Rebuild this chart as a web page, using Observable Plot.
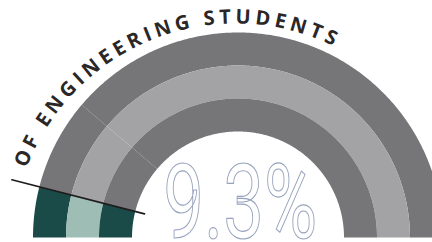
<!DOCTYPE html>
<html><head><meta charset="utf-8">
<script src="https://cdn.jsdelivr.net/npm/d3@7"></script>
<script src="https://cdn.jsdelivr.net/npm/@observablehq/plot@0.6"></script>
<style>html,body{margin:0;padding:0;background:#fff;overflow:hidden}</style>
</head><body><div id="chart"></div>
<script>
// ---- data ----
const sliceNames = ["Engineering students", "Other group A", "Other group B"];
const sliceShares = [8.0, 14.4, 77.6];           // % of the half ring
const ringNames = ["outer", "middle", "inner"];
const headline = "9.3%";
const arcLabel = "OF ENGINEERING STUDENTS";

// ---- layout / style ----
const W = 432, H = 242;
const CX = 238, CY = 237.5;                        // ring centre in pixels
const ringRadii = [[172, 205], [139, 172], [106, 139]];
const highlightColors = ["#1b4b49", "#9dbdb5", "#1b4b49"];
const baseColors = ["#767679", "#a3a3a5", "#767679"];
const markerR = [97, 234];
const textCenter = [235.6 - CX, CY - 247];        // data coords of the label circle centre
const textR = 223.5, textA0 = 20.6, textA1 = 115.8; // baseline radius, start/end angle (deg from left)

const toTheta = c => Math.PI - (c / 100) * Math.PI;

// build annular sectors from the shares
const cum = [0];
sliceShares.forEach((s, i) => cum.push(cum[i] + s));
const sectorPts = [];
ringNames.forEach((ring, i) => {
  const [r0, r1] = ringRadii[i];
  sliceNames.forEach((name, j) => {
    const c0 = cum[j], c1 = cum[j + 1];
    const n = Math.max(2, Math.ceil((c1 - c0) / 0.25));
    for (let k = 0; k <= n; k++) {
      const t = toTheta(c0 + (c1 - c0) * k / n);
      sectorPts.push({
        id: ring + "-" + name,
        color: j === 0 ? highlightColors[i] : baseColors[i],
        xo: r1 * Math.cos(t), yo: r1 * Math.sin(t),
        xi: r0 * Math.cos(t), yi: r0 * Math.sin(t)
      });
    }
  });
});

const tm = toTheta(sliceShares[0]);
const markerPts = markerR.map(r => ({x: r * Math.cos(tm), y: r * Math.sin(tm)}));

function arcTextMark(index, scales) {
  const sx = scales.x, sy = scales.y;
  const pcx = sx(textCenter[0]), pcy = sy(textCenter[1]);
  const R = Math.abs(sx(textCenter[0] + textR) - pcx);
  const t0 = Math.PI - textA0 * Math.PI / 180, t1 = Math.PI - textA1 * Math.PI / 180;
  const x0 = pcx + R * Math.cos(t0), y0 = pcy - R * Math.sin(t0);
  const x1 = pcx + R * Math.cos(t1), y1 = pcy - R * Math.sin(t1);
  const font = '700 20px "Open Sans"';
  const ctx = document.createElement("canvas").getContext("2d");
  ctx.font = font;
  const w = ctx.measureText(arcLabel).width;
  const L = R * (textA1 - textA0) * Math.PI / 180;
  const ls = (L - w) / (arcLabel.length - 1);
  const g = d3.create("svg:g");
  g.append("path").attr("id", "arcLabelPath").attr("fill", "none")
    .attr("d", `M${x0},${y0}A${R},${R} 0 0 1 ${x1},${y1}`);
  g.append("text")
    .attr("font-family", '"Open Sans", sans-serif').attr("font-weight", 700)
    .attr("font-size", 20).attr("fill", "#2b2727").attr("letter-spacing", ls)
    .attr("text-anchor", "start")
    .append("textPath").attr("href", "#arcLabelPath").attr("startOffset", 0).text(arcLabel);
  return g.node();
}

const chart = Plot.plot({
  width: W, height: H, margin: 0,
  x: {domain: [-CX, W - CX], axis: null},
  y: {domain: [-(H - CY), CY], axis: null},
  color: {type: "identity"},
  style: {background: "#fff"},
  marks: [
    Plot.area(sectorPts, {x1: "xo", y1: "yo", x2: "xi", y2: "yi", z: "id", fill: "color"}),
    Plot.line(markerPts, {x: "x", y: "y", stroke: "#1f1b1c", strokeWidth: 1.6}),
    Plot.text([headline], {x: 162.7 - CX, y: 0, text: d => d, textAnchor: "start", lineAnchor: "bottom",
      fontFamily: "Roboto", fontWeight: 400, fontSize: 104,
      fill: "white", stroke: "#97a3bd", strokeWidth: 1.2, paintOrder: "fill"}),
    arcTextMark
  ]
});
d3.select(chart).selectAll("text").filter(function () { return this.textContent === headline; })
  .attr("textLength", 154).attr("lengthAdjust", "spacingAndGlyphs");
document.getElementById("chart").appendChild(chart);
</script></body></html>
